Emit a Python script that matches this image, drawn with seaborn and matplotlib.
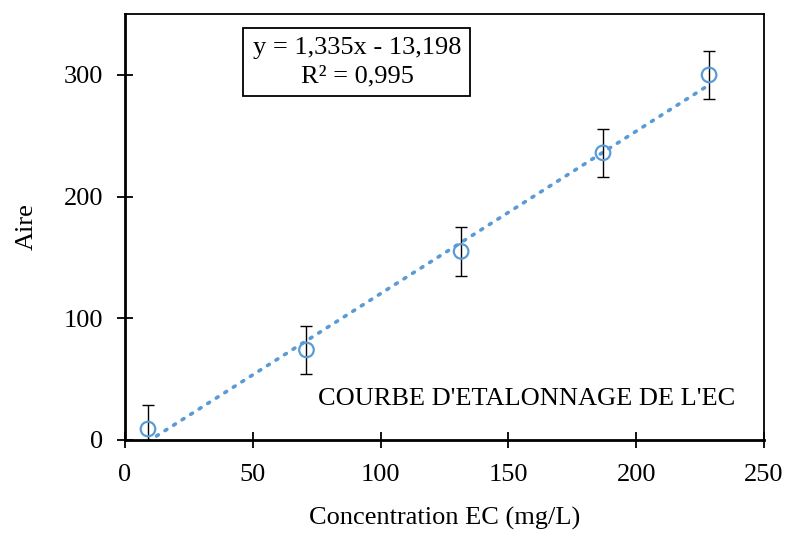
import matplotlib
matplotlib.use("Agg")
import matplotlib.pyplot as plt
import seaborn as sns
import numpy as np
import pandas as pd

conc = [9.0, 71.0, 131.5, 187.0, 228.5]
aire = [9, 74, 155, 236, 300]
err = [20, 20, 20, 20, 20]
slope, intercept = 1.335, -13.198

sns.set_theme(style="white")
plt.rcParams.update({
    "font.family": ["Liberation Serif", "DejaVu Serif"],
    "font.size": 19,
    "text.color": "black", "axes.labelcolor": "black",
    "xtick.color": "black", "ytick.color": "black",
})

BLUE = "#5B9BD5"

fig = plt.figure(figsize=(7.88, 5.33), dpi=100)
ax = fig.add_axes([0.1586, 0.1745, 0.811, 0.799])

df = pd.DataFrame({"conc": conc, "aire": aire})
xs = np.linspace(min(conc), max(conc), 50)
trend = pd.DataFrame({"conc": xs, "aire": slope * xs + intercept})

sns.lineplot(data=trend, x="conc", y="aire", ax=ax, color=BLUE, lw=2.6,
             linestyle=(0, (0.6, 2.2)), dash_capstyle="round")
ax.errorbar(conc, aire, yerr=err, fmt="none", ecolor="black", elinewidth=1,
            capsize=4.5, capthick=1, zorder=3)
sns.scatterplot(data=df, x="conc", y="aire", ax=ax, marker="o", s=110,
                facecolor="none", edgecolor=BLUE, linewidth=1.6, zorder=4)

ax.set_xlim(0, 250)
ax.set_ylim(0, 350)
ax.set_xticks([0, 50, 100, 150, 200, 250])
ax.set_yticks([0, 100, 200, 300])
ax.tick_params(bottom=True, left=True, direction="inout", length=11, width=1.3,
               labelsize=19)
ax.tick_params(axis="x", pad=12)
ax.tick_params(axis="y", pad=10)
for s in ax.spines.values():
    s.set_color("black")
    s.set_linewidth(1.3)
ax.spines["left"].set_linewidth(2)
ax.spines["bottom"].set_linewidth(2)

ax.set_xlabel("Concentration EC (mg/L)", fontsize=19, labelpad=15)
ax.set_ylabel("Aire", fontsize=19, labelpad=19)

ax.text(0.363, 0.887, "y = 1,335x - 13,198\nR² = 0,995", transform=ax.transAxes,
        ha="center", va="center", fontsize=19, linespacing=1.35,
        bbox=dict(boxstyle="square,pad=0.35", facecolor="white", edgecolor="black", lw=1.3))
ax.text(0.628, 0.096, "COURBE D'ETALONNAGE DE L'EC", transform=ax.transAxes,
        ha="center", va="center", fontsize=19)

fig.savefig("out.png", dpi=100)
